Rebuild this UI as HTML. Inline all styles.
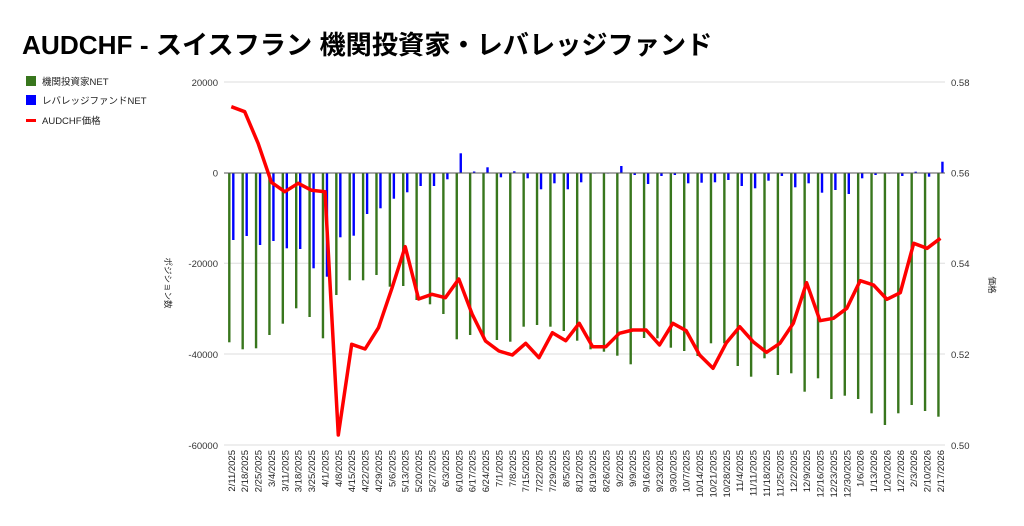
<!DOCTYPE html>
<html><head><meta charset="utf-8"><style>
html,body{margin:0;padding:0;background:#fff;}
svg{display:block;font-family:"Liberation Sans","Noto Sans CJK JP",sans-serif;}
</style></head><body>
<svg id="c" width="1024" height="526" xmlns="http://www.w3.org/2000/svg">
<rect width="1024" height="526" fill="#fff"/>
<text x="22" y="54" font-size="26.2" font-weight="bold" fill="#000">AUDCHF - スイスフラン 機関投資家・レバレッジファンド</text>
<rect x="26" y="76" width="10" height="10" fill="#38761d"/>
<text x="42" y="85" font-size="9.5" fill="#222">機関投資家NET</text>
<rect x="26" y="95" width="10" height="10" fill="#0000ff"/>
<text x="42" y="104" font-size="9.5" fill="#222">レバレッジファンドNET</text>
<rect x="26" y="119" width="10" height="3" fill="#ff0000"/>
<text x="42" y="124" font-size="9.5" fill="#222">AUDCHF価格</text>
<g stroke="#ddd" stroke-width="1">
<line x1="224" y1="82" x2="945" y2="82"/>
<line x1="224" y1="263.3" x2="945" y2="263.3"/>
<line x1="224" y1="354" x2="945" y2="354"/>
<line x1="224" y1="445" x2="945" y2="445"/>
</g>
<g font-size="9.5" fill="#333" text-anchor="end">
<text x="218" y="86">20000</text>
<text x="218" y="176.5">0</text>
<text x="218" y="267">-20000</text>
<text x="218" y="358">-40000</text>
<text x="218" y="449">-60000</text>
</g>
<g font-size="9.5" fill="#333">
<text x="951" y="86">0.58</text>
<text x="951" y="176.5">0.56</text>
<text x="951" y="267">0.54</text>
<text x="951" y="358">0.52</text>
<text x="951" y="449">0.50</text>
</g>
<text transform="translate(165,283) rotate(90)" font-size="8.5" fill="#222" text-anchor="middle">ポジション数</text>
<text transform="translate(989,285) rotate(90)" font-size="8.5" fill="#222" text-anchor="middle">価格</text>
<g id="bars"></g>
<line x1="224" y1="173" x2="945" y2="173" stroke="#555" stroke-width="1"/>
<polyline id="line" fill="none" stroke="#ff0000" stroke-width="3.5" stroke-linejoin="round"/>
<g id="labels" font-size="9.5" fill="#222"></g>
</svg>
<script>
var g=[342.3,349.3,348.3,335,323.7,308.3,317,338.3,295,280.3,280.3,275,286.7,286,300,304.3,314,339.3,335,336.7,340,341.7,326.7,325,326.7,331,340.7,349.3,351.7,355.7,364.3,338,338.3,347.7,351,356,343.3,343.3,366,376.7,358.3,375,373.3,391.7,378.3,399,395.7,399,413.3,425,413.3,405,411,416.7];
var b=[240,236,245,241,248.3,249,268.3,276.7,237.3,235.7,214,208.3,198.7,192.3,186,186,179.3,153.3,171.5,167.3,177.3,171.3,178.3,189.3,183.3,189.3,182.3,173,173,166,175,184,176,175,183.3,182.7,182.3,180,186,188.3,180.7,176,187.3,183.3,192.7,190,194,178.3,175,173,176,171.7,176.7,161.7];
var r=[106.7,111.7,143.3,182.3,191.7,183.3,190.3,191.7,435,344.3,349,327.7,288.3,246.7,299,294.3,297.7,279,314,341,351,355,343.3,357.7,332.7,340.7,323.3,346.7,346.7,333.3,330,330,345,323.3,330.7,355,368.3,342.7,326.7,341.7,352.3,343.3,323.3,282.7,320.7,318.3,308.3,280.7,285,299.3,292.7,243.3,248.3,238.3];
var d=["2/11/2025","2/18/2025","2/25/2025","3/4/2025","3/11/2025","3/18/2025","3/25/2025","4/1/2025","4/8/2025","4/15/2025","4/22/2025","4/29/2025","5/6/2025","5/13/2025","5/20/2025","5/27/2025","6/3/2025","6/10/2025","6/17/2025","6/24/2025","7/1/2025","7/8/2025","7/15/2025","7/22/2025","7/29/2025","8/5/2025","8/12/2025","8/19/2025","8/26/2025","9/2/2025","9/9/2025","9/16/2025","9/23/2025","9/30/2025","10/7/2025","10/14/2025","10/21/2025","10/28/2025","11/4/2025","11/11/2025","11/18/2025","11/25/2025","12/2/2025","12/9/2025","12/16/2025","12/23/2025","12/30/2025","1/6/2026","1/13/2026","1/20/2026","1/27/2026","2/3/2026","2/10/2026","2/17/2026"];
var ns="http://www.w3.org/2000/svg",bars=document.getElementById("bars"),lab=document.getElementById("labels"),pts=[];
function rect(x,y1,y2,c){var e=document.createElementNS(ns,"rect");e.setAttribute("x",x);e.setAttribute("y",Math.min(y1,y2));e.setAttribute("width",2.4);e.setAttribute("height",Math.max(0.6,Math.abs(y2-y1)));e.setAttribute("fill",c);bars.appendChild(e);}
for(var i=0;i<54;i++){var cx=231.3+i*13.38;
rect(cx-3.2,173,g[i],"#38761d");rect(cx+0.8,173,b[i],"#0000ff");
pts.push(cx.toFixed(1)+","+r[i]);
var t=document.createElementNS(ns,"text");t.setAttribute("transform","translate("+(cx+3.5)+",450) rotate(-90)");t.setAttribute("text-anchor","end");t.textContent=d[i];lab.appendChild(t);}
document.getElementById("line").setAttribute("points",pts.join(" "));
</script>
</body></html>
